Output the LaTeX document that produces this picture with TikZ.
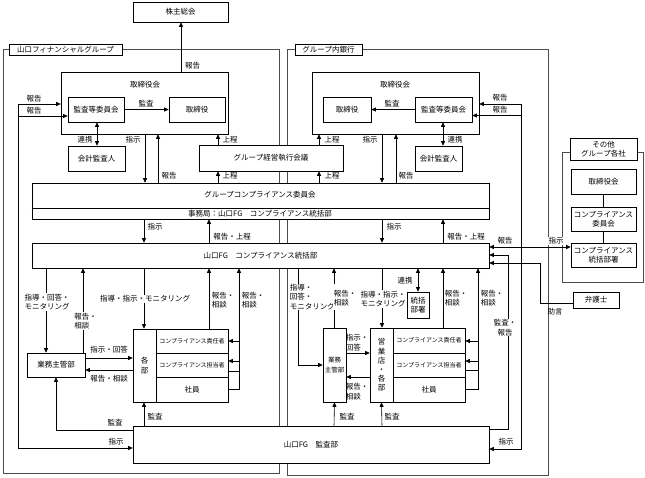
\documentclass[tikz,border=0pt]{standalone}
\usepackage{fontspec}
\setmainfont{Noto Sans CJK JP}
\usetikzlibrary{arrows.meta}
\newcommand{\fsn}{\fontsize{7.5}{9.5}\selectfont}
\newcommand{\fss}{\fontsize{6}{7}\selectfont}
\tikzset{
  box/.style={draw,fill=white,inner sep=1pt,font=\fsn,align=center},
  txt/.style={font=\fsn,inner sep=.5pt,align=center},
  wtxt/.style={txt,fill=white},
  grpframe/.style={draw=black!70,line width=.9pt},
}
\begin{document}
\begin{tikzpicture}[x=1pt,y=-1pt,line width=.6pt,>={Triangle[length=4.5pt,width=4pt]}]
\useasboundingbox (0,0) rectangle (645,477);

% groups
\draw[grpframe] (3,49) rectangle (279,473);
\draw[grpframe] (287,49) rectangle (548,475);
\draw[grpframe] (562,152) rectangle (643,282);
\node[box,minimum width=113,minimum height=11] (fgname) at (65.5,49.5) {山口フィナンシャルグループ};
\node[box,minimum width=67,minimum height=11] (bkname) at (328.5,50) {グループ内銀行};

% upper boxes
\node[box,minimum width=95,minimum height=20] (soukai) at (180.5,12) {株主総会};
\node[box,minimum width=167,minimum height=62] (fgboard) at (144.5,103) {};
\node[txt] (fgboardt) at (145,85) {取締役会};
\node[box,minimum width=56,minimum height=25] (fgaudit) at (96,109.5) {監査等委員会};
\node[box,minimum width=56,minimum height=25] (fgdir) at (197,109.5) {取締役};
\node[box,minimum width=57,minimum height=25] (fgacct) at (96.5,158.5) {会計監査人};
\node[box,minimum width=144,minimum height=26] (mgmt) at (271,158) {グループ経営執行会議};
\node[box,minimum width=167,minimum height=62] (bkboard) at (395.5,103) {};
\node[txt] (bkboardt) at (395,85) {取締役会};
\node[box,minimum width=48,minimum height=25] (bkdir) at (347,109.5) {取締役};
\node[box,minimum width=57,minimum height=25] (bkaudit) at (443.5,109.5) {監査等委員会};
\node[box,minimum width=47,minimum height=25] (bkacct) at (438.5,158.5) {会計監査人};

% compliance
\node[box,minimum width=457,minimum height=36] (gcc) at (260.5,201) {};
\draw (gcc.west |- 0,208) -- (gcc.east |- 0,208);
\node[txt] (gcct) at (260,195) {グループコンプライアンス委員会};
\node[txt] (gccs) at (260,213.5) {事務局：山口FG　コンプライアンス統括部};
\node[box,minimum width=457,minimum height=25] (cd) at (260.5,255.5) {山口FG　コンプライアンス統括部};
\node[box,minimum width=356,minimum height=37] (audit) at (311,444.5) {山口FG　監査部};

% FG lower
\node[box,minimum width=58,minimum height=24] (fggyomu) at (56,365) {業務主管部};
\node[box,minimum width=23,minimum height=73] (fgbu) at (144.5,365.5) {各\\部};
\node[box,minimum width=72,minimum height=24,font=\fss] (fgresp) at (192,341) {コンプライアンス責任者};
\node[box,minimum width=72,minimum height=24,font=\fss] (fgtanto) at (192,365) {コンプライアンス担当者};
\node[box,minimum width=72,minimum height=25] (fgstaff) at (192,389.5) {社員};

% bank lower
\node[box,minimum width=23,minimum height=74,font=\fontsize{6.5}{10}\selectfont] (bkgyomu) at (334.5,365) {業務\\主管部};
\node[box,minimum width=23,minimum height=74,font=\fontsize{7.5}{9.2}\selectfont] (bkbu) at (381.5,365) {営\\業\\店\\・\\各\\部};
\node[box,minimum width=72,minimum height=25,font=\fss] (bkresp) at (429,340.5) {コンプライアンス責任者};
\node[box,minimum width=72,minimum height=24,font=\fss] (bktanto) at (429,365) {コンプライアンス担当者};
\node[box,minimum width=72,minimum height=25] (bkstaff) at (429,389.5) {社員};
\node[box,minimum width=22,minimum height=26] (bktk) at (418,305) {統括\\部署};

% other companies
\node[box,minimum width=67,minimum height=22] (oname) at (603.5,149) {その他\\グループ各社};
\node[box,minimum width=65,minimum height=25] (obd) at (603.5,181.5) {取締役会};
\node[box,minimum width=65,minimum height=24] (occ) at (603.5,219) {コンプライアンス\\委員会};
\node[box,minimum width=65,minimum height=24] (ocd) at (603.5,255) {コンプライアンス\\統括部署};
\node[box,minimum width=46,minimum height=16] (lawyer) at (596,300) {弁護士};
\draw (obd) -- (occ) (occ) -- (ocd);

% upper connectors
\draw[->] (181,0 |- fgboard.north) -- (181,0 |- soukai.south);
\coordinate (fgl) at (18,104);
\draw[->] (fgl) -- (fgboard.west |- fgl);
\draw[->] (18,116) -- (fgaudit.west |- 0,116);
\draw[->] (fgl) |- (audit.west |- 0,448);
\draw[->] (fgaudit) -- (fgdir);
\draw[<->] (97,0 |- fgaudit.south) -- (97,0 |- fgacct.north);
\draw[->] (145,0 |- fgboard.south) -- (145,0 |- gcc.north);
\draw[->] (158,0 |- gcc.north) -- (158,0 |- fgboard.south);
\draw[->] (218,0 |- mgmt.north) -- (218,0 |- fgboard.south);
\draw[->] (218,0 |- gcc.north) -- (218,0 |- mgmt.south);
\draw[->] (319,0 |- mgmt.north) -- (319,0 |- bkboard.south);
\draw[->] (319,0 |- gcc.north) -- (319,0 |- mgmt.south);
\draw[->] (382,0 |- bkboard.south) -- (382,0 |- gcc.north);
\draw[->] (396,0 |- gcc.north) -- (396,0 |- bkboard.south);
\draw[->] (bkaudit) -- (bkdir);
\draw[<->] (443,0 |- bkaudit.south) -- (443,0 |- bkacct.north);
\coordinate (bkr) at (521,104);
\draw[->] (bkr) -- (bkboard.east |- bkr);
\draw[->] (521,115.5) -- (bkaudit.east |- 0,115.5);
\draw[->] (bkr) |- (audit.east |- 0,449);

% middle connectors
\draw[->] (144,0 |- gcc.south) -- (144,0 |- cd.north);
\draw[->] (209,0 |- cd.north) -- (209,0 |- gcc.south);
\draw[->] (382,0 |- gcc.south) -- (382,0 |- cd.north);
\draw[->] (443,0 |- cd.north) -- (443,0 |- gcc.south);
\draw[<->] (cd.east |- 0,247) -- (ocd.west |- 0,247);
\draw[->] (audit.east |- 0,429) -| (508,255) -- (cd.east |- 0,255);
\draw[->] (lawyer.west |- 0,303) -| (540,263) -- (cd.east |- 0,263);

% FG lower connectors
\draw[->] (46,0 |- cd.south) -- (46,0 |- fggyomu.north);
\draw[->] (83,0 |- fggyomu.north) -- (83,0 |- cd.south);
\draw[->] (144,0 |- cd.south) -- (144,0 |- fgbu.north);
\draw[->] (209,0 |- fgresp.north) -- (209,0 |- cd.south);
\draw[->] (fgstaff.east |- 0,389) -| (239,0 |- cd.south);
\draw[->] (239,341) -- (fgresp.east |- 0,341);
\draw[->] (239,361) -- (fgtanto.east |- 0,361);
\draw (fgtanto.east |- 0,371) -- (239,371);
\draw[->] (fggyomu.east |- 0,358) -- (fgbu.west |- 0,358);
\draw[->] (fgbu.west |- 0,370) -- (fggyomu.east |- 0,370);
\draw[->] (144,0 |- audit.north) -- (144,0 |- fgbu.south);
\draw[->] (audit.west |- 0,430) -| (fggyomu.south);

% bank lower connectors
\draw[->] (298,0 |- cd.south) |- (bkgyomu.west |- 0,365);
\draw[->] (334,0 |- bkgyomu.north) -- (334,0 |- cd.south);
\draw[->] (382,0 |- cd.south) -- (382,0 |- bkbu.north);
\draw[<->] (418,0 |- cd.south) -- (bktk.north);
\draw[->] (443,0 |- bkresp.north) -- (443,0 |- cd.south);
\draw[->] (bkstaff.east |- 0,389) -| (478,0 |- cd.south);
\draw[->] (478,341) -- (bkresp.east |- 0,341);
\draw[->] (478,361) -- (bktanto.east |- 0,361);
\draw (bktanto.east |- 0,370) -- (478,370);
\draw[->] (bkgyomu.east |- 0,353) -- (bkbu.west |- 0,353);
\draw[->] (bkbu.west |- 0,377) -- (bkgyomu.east |- 0,377);
\draw[->] (334,0 |- audit.north) -- (bkgyomu.south);
\draw[->] (382,0 |- audit.north) -- (bkbu.south);

% labels
\node[txt] (lb1) at (192.5,66) {報告};
\node[txt] (lb2) at (34,99) {報告};
\node[txt] (lb3) at (34,110.5) {報告};
\node[txt] (lb4) at (146,104) {監査};
\node[txt] (lb5) at (85,140) {連携};
\node[txt] (lb6) at (133,140) {指示};
\node[txt] (lb7) at (230,140) {上程};
\node[txt] (lb8) at (169,176) {報告};
\node[txt] (lb9) at (230,176) {上程};
\node[txt] (lb10) at (392,104) {監査};
\node[txt] (lb11) at (455,140) {連携};
\node[txt] (lb12) at (370,140) {指示};
\node[txt] (lb13) at (332,140) {上程};
\node[txt] (lb14) at (406,176) {報告};
\node[txt] (lb15) at (332,176) {上程};
\node[txt] (lb16) at (500,98) {報告};
\node[txt] (lb17) at (500,110) {報告};
\node[txt] (lb18) at (155,227) {指示};
\node[txt] (lb19) at (232,237) {報告・上程};
\node[txt] (lb20) at (394,227) {指示};
\node[txt] (lb21) at (466,237) {報告・上程};
\node[txt] (lb22) at (505,241) {報告};
\node[wtxt] (lb23) at (556,241) {指示};
\node[wtxt] (lb24) at (505,327.5) {監査・\\報告};
\node[txt] (lb25) at (555,312) {助言};
\node[txt] (lb26) at (506,442) {指示};
\node[wtxt,align=left] (lb27) at (47,302) {指導・回答・\\モニタリング};
\node[wtxt,align=left] (lb28) at (85.5,321) {報告・\\相談};
\node[wtxt] (lb29) at (145,299) {指導・指示・モニタリング};
\node[txt,align=left] (lb30) at (223,300) {報告・\\相談};
\node[txt,align=left] (lb31) at (253,300) {報告・\\相談};
\node[txt] (lb32) at (109,350) {指示・回答};
\node[txt] (lb33) at (109,378.5) {報告・相談};
\node[txt] (lb34) at (155,417) {監査};
\node[txt] (lb35) at (115,423) {監査};
\node[txt] (lb36) at (116,442) {指示};
\node[wtxt,align=left,anchor=west] (lb37) at (289,297) {指導・\\回答・\\モニタリング};
\node[wtxt,align=left,anchor=west] (lb38) at (333,298) {報告・\\相談};
\node[wtxt] (lb39) at (383,299) {指導・指示・\\モニタリング};
\node[txt] (lb40) at (405,281) {連携};
\node[txt,align=left] (lb41) at (456,298) {報告・\\相談};
\node[txt,align=left] (lb42) at (492,298) {報告・\\相談};
\node[txt,align=left] (lb43) at (357,342.5) {指示・\\回答};
\node[txt,align=left] (lb44) at (357,391.5) {報告・\\相談};
\node[txt] (lb45) at (347,417) {監査};
\node[txt] (lb46) at (392,417) {監査};
\end{tikzpicture}
\end{document}
